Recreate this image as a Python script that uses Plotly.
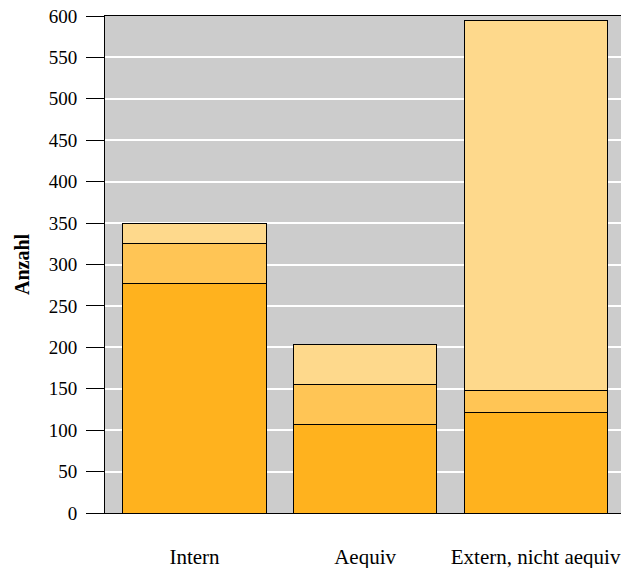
import plotly.graph_objects as go

categories = ["Intern", "Aequiv", "Extern, nicht aequiv"]
series1 = [277, 107, 121]
series2 = [48, 48, 27]
series3 = [24, 49, 447]
colors = ["#ffb21e", "#ffc555", "#fed98c"]
yticks = list(range(0, 601, 50))

FONT = "Liberation Serif"

fig = go.Figure()
for vals, col in zip([series1, series2, series3], colors):
    fig.add_trace(go.Bar(
        x=categories, y=vals,
        marker=dict(color=col, line=dict(color="black", width=1)),
        showlegend=False,
    ))

fig.update_layout(
    barmode="stack",
    bargap=0.161,
    width=621, height=568,
    margin=dict(l=105, r=0, t=16, b=55),
    plot_bgcolor="#cccccc",
    paper_bgcolor="white",
    font=dict(family=FONT, size=19, color="black"),
)
fig.update_xaxes(
    range=[-0.525, 2.501],
    showline=True, linecolor="black", linewidth=1, mirror=True,
    ticks="", ticklabelstandoff=25,
    tickfont=dict(family=FONT, size=21),
    showgrid=False,
    automargin=False,
)
fig.update_yaxes(
    range=[0, 600],
    tickvals=yticks,
    showline=True, linecolor="black", linewidth=1,
    ticks="outside", ticklen=18, tickcolor="black", tickwidth=1,
    ticklabelstandoff=5,
    showgrid=True, gridcolor="white", gridwidth=2,
    zeroline=False,
    automargin=False,
    title=dict(text="<b>Anzahl</b>", font=dict(family=FONT, size=20), standoff=13),
)

fig.write_html(
    "out.html",
    config={"displayModeBar": False},
    post_script="document.body.style.margin='0';document.body.style.overflow='hidden';",
)
